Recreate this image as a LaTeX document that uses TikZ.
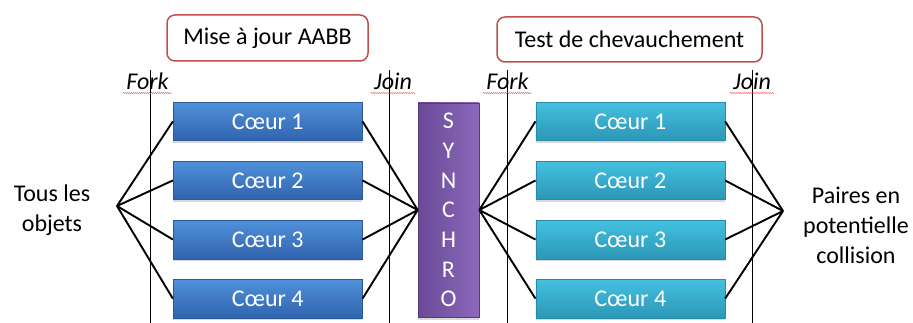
\documentclass[tikz,border=0pt]{standalone}
\usepackage{fontspec}
\setmainfont{Carlito}
\usetikzlibrary{matrix,shadows,decorations.pathmorphing}

\definecolor{bleuhaut}{HTML}{5090DA}
\definecolor{bleubas}{HTML}{3164AE}
\definecolor{bleubord}{HTML}{2C5A98}
\definecolor{cyanhaut}{HTML}{44C0E0}
\definecolor{cyanbas}{HTML}{2C97B6}
\definecolor{cyanbord}{HTML}{2A8AA6}
\definecolor{violetg}{HTML}{6A4A98}
\definecolor{violetd}{HTML}{8C68BA}
\definecolor{rougetitre}{HTML}{C0504D}

\tikzset{
  texte/.style={font=\fontsize{24}{30}\selectfont},
  titre/.style={texte, draw=rougetitre, line width=1.5pt, rounded corners=8pt, fill=white},
  coeur/.style={rectangle, texte, text=white, line width=0.6pt, inner sep=0pt,
    minimum width=189pt, minimum height=38.5pt,
    drop shadow={shadow xshift=0pt, shadow yshift=-2.5pt, opacity=0.3}},
  coeurbleu/.style={coeur, draw=bleubord, top color=bleuhaut, bottom color=bleubas},
  coeurcyan/.style={coeur, draw=cyanbord, top color=cyanhaut, bottom color=cyanbas},
  lien/.style={line width=1.9pt},
  trait/.style={line width=0.8pt},
  souligne/.style={draw=red!80, line width=0.4pt, decorate,
    decoration={snake, segment length=2pt, amplitude=0.5pt}}
}

\begin{document}
\begin{tikzpicture}[x=1pt,y=-1pt]
  \useasboundingbox (0,0) rectangle (913,323);

  % barrieres fork / join
  \draw[trait] (150,70) -- (150,323);
  \draw[trait] (389,70) -- (389,323);
  \draw[trait] (507,70) -- (507,323);
  \draw[trait] (752,70) -- (752,323);
  \node[texte, font=\fontsize{24}{30}\selectfont\itshape, anchor=base] (fk1) at (147.5,90) {Fork};
  \node[texte, font=\fontsize{24}{30}\selectfont\itshape, anchor=base] (jn1) at (393,90) {Join};
  \node[texte, font=\fontsize{24}{30}\selectfont\itshape, anchor=base] (fk2) at (507.5,90) {Fork};
  \node[texte, font=\fontsize{24}{30}\selectfont\itshape, anchor=base] (jn2) at (752,90) {Join};
  \foreach \n in {fk1,jn1,fk2,jn2}
    \path[souligne] ([yshift=-3pt]\n.base west) -- ([yshift=-3pt]\n.base east);

  \node[titre, minimum width=201pt, minimum height=46pt] (t1) at (267.5,38) {Mise à jour AABB};
  \node[titre, minimum width=265pt, minimum height=45pt] (t2) at (629.5,39.5) {Test de chevauchement};

  \matrix (m) [matrix of nodes, row sep=20pt, column sep=173pt,
    column 1/.style={nodes=coeurbleu}, column 2/.style={nodes=coeurcyan}] at (449,210)
  {
    Cœur 1 & Cœur 1 \\
    Cœur 2 & Cœur 2 \\
    Cœur 3 & Cœur 3 \\
    Cœur 4 & Cœur 4 \\ };

  \node[rectangle, draw=violetg!80!black, line width=0.6pt, left color=violetg, right color=violetd,
    minimum width=61pt, minimum height=214pt, inner sep=0pt, text=white, align=center,
    font=\fontsize{24}{29.7}\selectfont,
    drop shadow={shadow xshift=0pt, shadow yshift=-2.5pt, opacity=0.3}] (sync) at (448.5,210)
    {S\\Y\\N\\C\\H\\R\\O};

  \node[texte, align=center] (objets) at (52,210) {Tous les\\objets};
  \node[texte, align=center] (paires) at (856,225) {Paires en\\potentielle\\collision};

  \coordinate (fL) at (117,206);
  \coordinate (jR) at (783,211);
  \path[lien]
  (fL) edge (m-1-1.west) edge (m-2-1.west) edge (m-3-1.west) edge (m-4-1.west)
  (sync.west) edge (m-1-1.east) edge (m-2-1.east) edge (m-3-1.east) edge (m-4-1.east)
  (sync.east) edge (m-1-2.west) edge (m-2-2.west) edge (m-3-2.west) edge (m-4-2.west)
  (jR) edge (m-1-2.east) edge (m-2-2.east) edge (m-3-2.east) edge (m-4-2.east);
\end{tikzpicture}
\end{document}
